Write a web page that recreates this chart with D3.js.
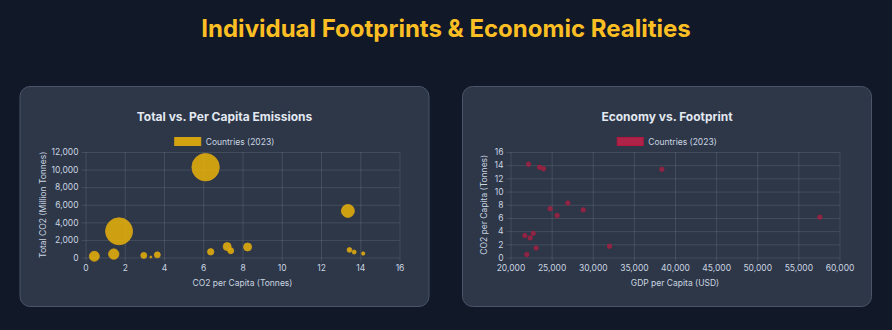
<!DOCTYPE html>
<html>
<head>
<meta charset="utf-8">
<script src="https://cdn.jsdelivr.net/npm/d3@7"></script>
<style>
  html, body { margin: 0; padding: 0; background: #111827; }
  svg { display: block; font-family: Inter, "Noto Sans", sans-serif; }
</style>
</head>
<body>
<svg id="chart" width="892" height="330"></svg>
<script>
// Per-country values for 2023 (same country order in every array)
const perCapita   = [0.45, 1.44, 1.71, 2.97, 3.33, 3.66, 6.12, 6.38, 7.22, 7.40, 8.26, 13.37, 13.45, 13.69, 14.15];
const totalCO2    = [140, 390, 2980, 240, 55, 300, 10270, 646, 1240, 770, 1200, 5300, 860, 615, 450];
const bubbleR     = [5, 5.2, 13.5, 3, 1, 3, 13.7, 3.2, 4, 3, 4, 6.5, 2.4, 2, 1.7];
const gdpPerCapita = [21990, 23120, 32040, 22390, 21740, 22760, 57610, 25670, 28840, 24820, 26970, 38400, 24010, 23530, 22190];

const seriesLabel = "Countries (2023)";
const totalTicks  = [0, 2000, 4000, 6000, 8000, 10000, 12000];
const perCapTicks = [0, 2, 4, 6, 8, 10, 12, 14, 16];
const gdpTicks    = [20000, 25000, 30000, 35000, 40000, 45000, 50000, 55000, 60000];

const svg = d3.select("#chart");
const fmt = d3.format(",");

svg.append("text")
  .attr("x", 446).attr("y", 37)
  .attr("text-anchor", "middle")
  .attr("fill", "#fbbf24")
  .attr("font-size", 24).attr("font-weight", 700)
  .text("Individual Footprints & Economic Realities");

function panel(opt) {
  const g = svg.append("g").attr("transform", `translate(${opt.x},86)`);
  g.append("rect")
    .attr("x", 0.5).attr("y", 0.5).attr("width", 409).attr("height", 220)
    .attr("rx", 10).attr("fill", "#2d3748").attr("stroke", "#4a5568");

  g.append("text").attr("x", 205).attr("y", 35)
    .attr("text-anchor", "middle").attr("fill", "#e2e8f0")
    .attr("font-size", 12).attr("font-weight", 700).text(opt.title);

  // legend
  const lg = g.append("g");
  const lt = lg.append("text").attr("y", 58.5).attr("fill", "#cbd5e0")
    .attr("font-size", 8.5).text(seriesLabel);
  const tw = lt.node().getComputedTextLength();
  const total = 26 + 5 + tw;
  const lx = 205 - total / 2;
  lg.insert("rect", "text").attr("x", lx).attr("y", 51.5).attr("width", 26).attr("height", 8)
    .attr("fill", opt.legendFill).attr("stroke", opt.legendStroke).attr("stroke-width", 1);
  lt.attr("x", lx + 31);

  const x = d3.scaleLinear().domain(opt.xDomain).range([opt.plot.l, opt.plot.r]);
  const y = d3.scaleLinear().domain(opt.yDomain).range([opt.plot.b, opt.plot.t]);
  const grid = "rgba(255,255,255,0.11)";

  const xg = g.append("g").attr("transform", `translate(0,${opt.plot.b})`)
    .call(d3.axisBottom(x).tickValues(opt.xTicks).tickFormat(fmt)
      .tickSize(-(opt.plot.b - opt.plot.t)).tickSizeOuter(0));
  const yg = g.append("g").attr("transform", `translate(${opt.plot.l},0)`)
    .call(d3.axisLeft(y).tickValues(opt.yTicks).tickFormat(fmt)
      .tickSize(-(opt.plot.r - opt.plot.l)).tickSizeOuter(0));
  [xg, yg].forEach(a => {
    a.select(".domain").remove();
    a.selectAll(".tick line").attr("stroke", grid);
    a.selectAll(".tick text").attr("fill", "#cbd5e0").attr("font-size", 8.5)
      .attr("font-family", "Inter, 'Noto Sans', sans-serif");
  });
  // short tick marks outside the plot
  xg.selectAll(".tick").append("line").attr("y1", 0).attr("y2", 4).attr("stroke", grid);
  yg.selectAll(".tick").append("line").attr("x1", 0).attr("x2", -4).attr("stroke", grid);
  xg.selectAll(".tick text").attr("dy", "0.71em").attr("y", 7);
  yg.selectAll(".tick text").attr("x", -7);

  g.append("text").attr("x", (opt.plot.l + opt.plot.r) / 2).attr("y", 200)
    .attr("text-anchor", "middle").attr("fill", "#cbd5e0").attr("font-size", 8.5)
    .text(opt.xTitle);
  g.append("text")
    .attr("transform", `translate(${opt.yTitleX},${(opt.plot.t + opt.plot.b) / 2}) rotate(-90)`)
    .attr("text-anchor", "middle").attr("fill", "#cbd5e0").attr("font-size", 8.5)
    .text(opt.yTitle);

  return { g, x, y };
}

// Total vs. per-capita bubbles
const p1 = panel({
  x: 19.5, title: "Total vs. Per Capita Emissions",
  legendFill: "rgba(234,179,8,0.88)", legendStroke: "#d4a017",
  plot: { l: 66, r: 380, t: 66, b: 171.5 },
  xDomain: [0, 16], yDomain: [0, 12000], xTicks: perCapTicks, yTicks: totalTicks,
  xTitle: "CO2 per Capita (Tonnes)", yTitle: "Total CO2 (Million Tonnes)", yTitleX: 26
});
p1.g.append("g").selectAll("circle")
  .data(d3.range(perCapita.length))
  .join("circle")
  .attr("cx", i => p1.x(perCapita[i]))
  .attr("cy", i => p1.y(totalCO2[i]))
  .attr("r", i => bubbleR[i])
  .attr("fill", "rgba(234,179,8,0.85)")
  .attr("stroke", "#d4a017").attr("stroke-width", 0.8);

// GDP vs. per-capita scatter
const p2 = panel({
  x: 462, title: "Economy vs. Footprint",
  legendFill: "rgba(225,29,72,0.72)", legendStroke: "#b3163f",
  plot: { l: 48.5, r: 377.5, t: 66, b: 171.5 },
  xDomain: [20000, 60000], yDomain: [0, 16], xTicks: gdpTicks, yTicks: perCapTicks,
  xTitle: "GDP per Capita (USD)", yTitle: "CO2 per Capita (Tonnes)", yTitleX: 24.5
});
p2.g.append("g").selectAll("circle")
  .data(d3.range(gdpPerCapita.length))
  .join("circle")
  .attr("cx", i => p2.x(gdpPerCapita[i]))
  .attr("cy", i => p2.y(perCapita[i]))
  .attr("r", 2.2)
  .attr("fill", "rgba(200,30,70,0.6)")
  .attr("stroke", "rgba(170,25,62,0.9)").attr("stroke-width", 0.8);
</script>
</body>
</html>
